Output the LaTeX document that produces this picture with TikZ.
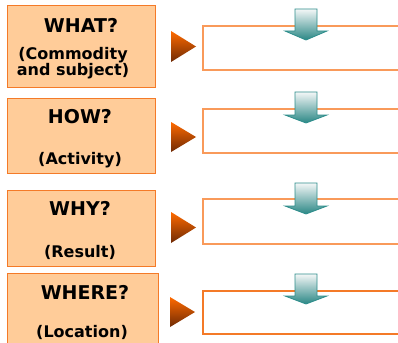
\documentclass[tikz,border=0pt]{standalone}
\usepackage{fontspec}
\setmainfont{DejaVu Sans}
\definecolor{boxfill}{HTML}{FFCC99}
\definecolor{boxline}{HTML}{F47A28}
\definecolor{rectline}{HTML}{F99A5A}
\definecolor{triTop}{HTML}{FF6A00}
\definecolor{triBot}{HTML}{6E2A05}
\definecolor{arrTop}{HTML}{F4F7F7}
\definecolor{arrBot}{HTML}{2A8785}
\definecolor{arrLine}{HTML}{2E8E8C}
\tikzset{
  qbox/.style={draw=boxline, fill=boxfill, line width=1pt},
  ansbox/.style={draw=rectline, line width=1.2pt},
  ttl/.style={font=\bfseries\fontsize{19}{21}\selectfont, inner sep=0pt},
  sub/.style={font=\bfseries\fontsize{16}{17}\selectfont, inner sep=0pt, align=center},
  tri/.style={top color=triTop, bottom color=triBot, draw=none},
  darr/.style={top color=arrTop, bottom color=arrBot, draw=arrLine, line width=0.8pt, line join=miter}
}
\newcommand\tealarrow[4]{% x, top, headstart, tip
  \shadedraw[darr] (#1-11,#2) -- (#1+11,#2) -- (#1+11,#3) -- (#1+21,#3) -- (#1,#4) -- (#1-21,#3) -- (#1-11,#3) -- cycle;}
\newcommand\orangetri[4]{% xl, ytop, xr, ybot
  \shade[tri] (#1,#2) -- (#3,{(#2+#4)/2}) -- (#1,#4) -- cycle;}
\begin{document}
\begin{tikzpicture}[x=1pt,y=-1pt]
\clip (0,0) rectangle (398,342);
\fill[white] (0,0) rectangle (398,342);
% row 1
\draw[qbox] (7,6) rectangle (155,88) node[pos=0.5, coordinate] (q1) {};
\node[ttl] (t1) at (81,25) {WHAT?};
\node[sub] (s1) at (73,63.5) {(Commodity\\[-1pt]and subject)};
\orangetri{171}{31}{196}{62}
\draw[ansbox] (203,26) rectangle (410,70) node[pos=0.5, coordinate] (a1) {};
\tealarrow{306}{9}{31}{40}
% row 2
\draw[qbox] (7,98) rectangle (155,173) node[pos=0.5, coordinate] (q2) {};
\node[ttl] (t2) at (80,117) {HOW?};
\node[sub] (s2) at (80,160) {(Activity)};
\orangetri{171}{122}{196}{152}
\draw[ansbox] (203,109) rectangle (410,153) node[pos=0.5, coordinate] (a2) {};
\tealarrow{306}{92}{115}{123}
% row 3
\draw[qbox] (7,190) rectangle (155,266) node[pos=0.5, coordinate] (q3) {};
\node[ttl] (t3) at (80,208) {WHY?};
\node[sub] (s3) at (80,252) {(Result)};
\orangetri{171}{212}{196}{243}
\draw[ansbox] (203,199) rectangle (410,244) node[pos=0.5, coordinate] (a3) {};
\tealarrow{306}{183}{206}{214}
% row 4
\draw[qbox] (7,273) rectangle (158,355) node[pos=0.5, coordinate] (q4) {};
\node[ttl] (t4) at (85,292) {WHERE?};
\node[sub] (s4) at (82,332) {(Location)};
\orangetri{170}{297}{195}{327}
\draw[ansbox, draw=boxline] (203,291) rectangle (410,334) node[pos=0.5, coordinate] (a4) {};
\tealarrow{306}{274}{296}{304}
\end{tikzpicture}
\end{document}
